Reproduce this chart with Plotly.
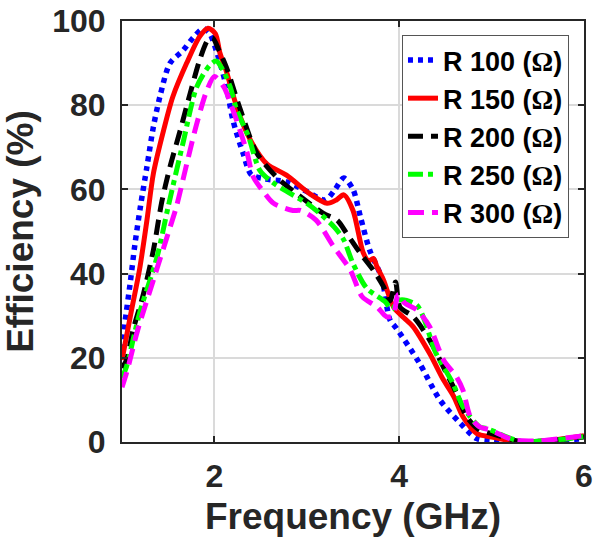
import plotly.graph_objects as go

# ---------------- data ----------------
loads = [100, 150, 200, 250, 300]
names = [f"R {r} (<span style='font-family:Liberation Serif, Times New Roman, serif'>Ω</span>)" for r in loads]

f_r100 = [1.0, 1.03, 1.09, 1.14, 1.2, 1.27, 1.34, 1.41, 1.52, 1.66, 1.77, 1.88, 1.95, 2.02, 2.13, 2.2,
          2.31, 2.4, 2.55, 2.78, 3.0, 3.2, 3.3, 3.4, 3.5, 3.58, 3.68, 3.81, 3.9, 3.97, 4.22, 4.44,
          4.66, 4.84, 5.0, 5.3, 5.6, 6.0]
e_r100 = [22, 28, 38, 47, 56, 65.4, 74.9, 82, 90, 93, 96, 98.2, 97, 93, 84.4, 76.5,
          68.6, 63.5, 62.5, 61.8, 59.5, 57.5, 59.8, 62.7, 60, 53.5, 45.6, 39, 29, 27, 18.7, 10,
          4.5, 0.8, 0.3, 0, 0.2, 0.8]

f_r150 = [1.0, 1.1, 1.19, 1.27, 1.34, 1.45, 1.55, 1.7, 1.84, 1.93, 2.01, 2.06, 2.13, 2.25, 2.39,
          2.57, 2.78, 3.03, 3.22, 3.32, 3.4, 3.5, 3.61, 3.67, 3.72, 3.76, 3.83, 3.94, 4.05, 4.15,
          4.33, 4.48, 4.59, 4.69, 4.84, 5.0, 5.3, 5.6, 6.0]
e_r150 = [19.5, 31, 41, 52.7, 63.8, 74, 82, 90, 96.3, 98.3, 97, 92.4, 88, 79, 71.7,
          66, 63.4, 59, 56.7, 57.5, 58.7, 55, 45, 43, 43.6, 41.6, 38.5, 32, 29.5, 27.4,
          21, 14.7, 10.8, 6, 2, 1.2, 0, 0.3, 1.5]

f_r200 = [1.0, 1.05, 1.12, 1.23, 1.34, 1.43, 1.52, 1.63, 1.74, 1.84, 1.93, 1.98, 2.05, 2.13, 2.28,
          2.46, 2.67, 2.93, 3.18, 3.33, 3.43, 3.58, 3.72, 3.83, 3.9, 3.96, 4.01, 4.15, 4.33, 4.51,
          4.62, 4.73, 4.87, 5.0, 5.3, 5.6, 6.0]
e_r200 = [17.6, 19.5, 26.6, 35, 45.6, 57, 65.4, 74, 83, 90.7, 95.5, 96, 93, 89, 79,
          68.6, 63, 58.3, 54.3, 52.7, 49.6, 44.8, 40.8, 36.9, 33.5, 38, 32, 29.8, 24.2, 16.4,
          11.6, 6, 2.8, 2, 0.2, 0.3, 1.2]

f_r250 = [1.0, 1.05, 1.19, 1.38, 1.5, 1.66, 1.81, 1.95, 2.02, 2.1, 2.17, 2.24, 2.37, 2.49, 2.64,
          3.0, 3.14, 3.3, 3.4, 3.5, 3.65, 3.85, 3.92, 4.0, 4.19, 4.4, 4.58, 4.69, 4.87, 4.95,
          5.3, 5.6, 6.0]
e_r250 = [15.2, 18, 30.6, 44, 55.9, 71, 84.4, 89.5, 90.5, 88, 84.4, 79, 72.5, 64.6, 61.5,
          56.7, 54.3, 51, 48, 42.4, 36.5, 33.3, 31.5, 33.7, 32.5, 21, 14, 8.4, 3.6, 3.2,
          0.2, 0.3, 1.3]

f_r300 = [1.0, 1.05, 1.17, 1.34, 1.52, 1.59, 1.7, 1.81, 1.92, 2.0, 2.1, 2.2, 2.35, 2.42, 2.53,
          2.64, 2.85, 2.93, 3.1, 3.29, 3.47, 3.6, 3.76, 3.86, 3.93, 3.99, 4.06, 4.19, 4.33, 4.48,
          4.62, 4.69, 4.77, 4.87, 4.98, 5.24, 5.52, 5.96, 6.0]
e_r300 = [13, 16.5, 26.6, 38.5, 51, 56, 66, 75.7, 83.6, 86.8, 84.4, 78.9, 69, 63, 59.5,
          56.7, 55, 55, 52.7, 46.4, 40.9, 34.5, 32.1, 29.8, 30, 35, 33, 31.4, 27.4, 19.5,
          15.5, 12.3, 6, 3.6, 2.9, 0.5, 0.3, 1.4, 1.5]

x_ticks = [2, 4, 6]
y_ticks = [0, 20, 40, 60, 80, 100]

# ---------------- styles ----------------
series = [
    (f_r100, e_r100, "#0000FF", "5px,5px", 5.5),
    (f_r150, e_r150, "#FF0000", "solid", 5),
    (f_r200, e_r200, "#000000", "15px,8px", 5),
    (f_r250, e_r250, "#00FF00", "15px,5px,5px,5px", 5),
    (f_r300, e_r300, "#FF00FF", "16px,8px", 5),
]

fig = go.Figure()
for name, (fx, ey, col, dash, w) in zip(names, series):
    fig.add_trace(go.Scatter(
        x=fx, y=ey, mode="lines", name=name,
        line=dict(color=col, width=w, dash=dash, shape="spline", smoothing=0.8),
    ))

axis_col = "#262626"
font_fam = "Liberation Sans, Arial, Helvetica, sans-serif"

fig.update_layout(
    width=594, height=546,
    margin=dict(l=122, r=10, t=21, b=104),
    paper_bgcolor="white", plot_bgcolor="white",
    font=dict(family=font_fam, color=axis_col, weight="bold"),
    showlegend=True,
    legend=dict(
        x=0.9675, y=0.9667, xanchor="right", yanchor="top",
        bgcolor="white", bordercolor="#555555", borderwidth=1,
        font=dict(size=27, color="black", family=font_fam, weight="bold"),
        itemwidth=30, tracegroupgap=0,
    ),
)

fig.update_xaxes(
    range=[1, 6], tickvals=x_ticks, ticktext=[str(v) for v in x_ticks],
    showline=True, linecolor=axis_col, linewidth=2, mirror="ticks",
    ticks="inside", ticklen=6, tickwidth=2, tickcolor=axis_col,
    showgrid=True, gridcolor="#dadada", gridwidth=1.5,
    zeroline=False,
    tickfont=dict(size=32, color=axis_col, weight="bold"),
    ticklabelstandoff=5,
    title=dict(text="Frequency (GHz)", font=dict(size=37, color=axis_col, weight="bold"), standoff=10),
    automargin=False,
)
fig.update_yaxes(
    range=[0, 100], tickvals=y_ticks, ticktext=[str(v) for v in y_ticks],
    showline=True, linecolor=axis_col, linewidth=2, mirror="ticks",
    ticks="inside", ticklen=6, tickwidth=2, tickcolor=axis_col,
    showgrid=True, gridcolor="#dadada", gridwidth=1.5,
    zeroline=False,
    tickfont=dict(size=32, color=axis_col, weight="bold"),
    ticklabelstandoff=8,
    title=dict(text="Efficiency (%)", font=dict(size=37, color=axis_col, weight="bold"), standoff=8),
    automargin=False,
)

fig.write_html("out.html")
